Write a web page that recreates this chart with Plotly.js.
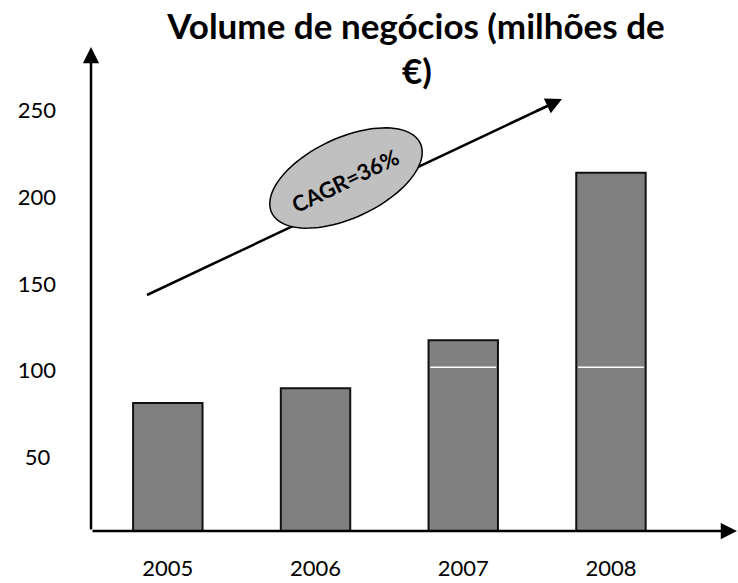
<!DOCTYPE html>
<html>
<head>
<meta charset="utf-8">
<script src="https://cdn.plot.ly/plotly-3.0.1.min.js"></script>
<style>html,body{margin:0;padding:0;background:#fff;}#chart{width:738px;height:583px;}</style>
</head>
<body>
<div id="chart"></div>
<script>
// ---- data ----
const years = ['2005', '2006', '2007', '2008'];
const revenue = [81.5, 90, 117.5, 214];
const divider = [null, null, 102, 102];
const yTickVals = [50, 100, 150, 200, 250];
const yTickText = ['50\u00a0', '100', '150', '200', '250'];
const titleLine1 = 'Volume de negócios (milhões de';
const titleLine2 = '€)';
const cagrLabel = 'CAGR=36%';

// ---- layout geometry ----
const W = 738, H = 583;
const M = {l: 91, r: 0, t: 75, b: 52};
const PW = W - M.l - M.r, PH = H - M.t - M.b;
const px = x => (x - M.l) / PW;
const py = y => (H - M.b - y) / PH;
const barWidth = 0.47;
const FONT = 'Lato, "Open Sans", sans-serif';
const AW = 2.5, AS = 1.3;

// white divider lines inside bars
const shapes = [];
divider.forEach((v, i) => {
  if (v === null) return;
  shapes.push({type: 'line', xref: 'x', yref: 'y', x0: i - barWidth / 2 + 0.012, x1: i + barWidth / 2 - 0.012,
               y0: v, y1: v, line: {color: '#ffffff', width: 1.5}, layer: 'above'});
});

// trend line (body), drawn under the ellipse
const tail = [147, 295], head = [562, 99];
const dx = head[0] - tail[0], dy = head[1] - tail[1];
const len = Math.hypot(dx, dy);
const stop = [head[0] - dx / len * 10, head[1] - dy / len * 10];
shapes.push({type: 'line', xref: 'paper', yref: 'paper', x0: px(tail[0]), y0: py(tail[1]),
             x1: px(stop[0]), y1: py(stop[1]), line: {color: '#000', width: 2.5}, layer: 'above'});

// rotated ellipse
const ec = [346, 178], ea = 82, eb = 40, th = 25 * Math.PI / 180;
let path = '';
for (let k = 0; k <= 96; k++) {
  const t = k / 96 * 2 * Math.PI;
  const ux = ea * Math.cos(t), uy = eb * Math.sin(t);
  const sx = ec[0] + ux * Math.cos(th) - uy * Math.sin(th);
  const sy = ec[1] - (ux * Math.sin(th) + uy * Math.cos(th));
  path += (k === 0 ? 'M' : 'L') + px(sx).toFixed(5) + ',' + py(sy).toFixed(5);
}
path += 'Z';
shapes.push({type: 'path', xref: 'paper', yref: 'paper', path: path,
             fillcolor: '#c0c0c0', line: {color: '#000', width: 1.5}, layer: 'above'});

const annotations = [
  // y-axis arrow
  {xref: 'paper', yref: 'paper', x: px(91), y: py(47), ax: 0, ay: 484, axref: 'pixel', ayref: 'pixel',
   text: '', showarrow: true, arrowhead: 2, arrowsize: AS, arrowwidth: AW, arrowcolor: '#000'},
  // x-axis arrow
  {xref: 'paper', yref: 'paper', x: px(743), y: py(531), ax: -652, ay: 0,
   text: '', showarrow: true, arrowhead: 2, arrowsize: AS, arrowwidth: AW, arrowcolor: '#000'},
  // trend arrow head
  {xref: 'paper', yref: 'paper', x: px(head[0]), y: py(head[1]), ax: -dx / len * 30, ay: -dy / len * 30,
   text: '', showarrow: true, arrowhead: 2, arrowsize: AS, arrowwidth: AW, arrowcolor: '#000'},
  // CAGR label
  {xref: 'paper', yref: 'paper', x: px(345), y: py(180), xanchor: 'center', yanchor: 'middle',
   text: '<b>' + cagrLabel + '</b>', showarrow: false,
   textangle: -26, font: {family: FONT, size: 22, color: '#000'}},
  // title 2nd line
  {xref: 'paper', yref: 'paper', x: px(417), y: py(70), xanchor: 'center', yanchor: 'middle',
   text: '<b>' + titleLine2 + '</b>',
   showarrow: false, font: {family: FONT, size: 35, color: '#000'}}
];

const data = [{
  type: 'bar', x: years, y: revenue, width: barWidth,
  marker: {color: '#808080', line: {color: '#111', width: 2}},
  hoverinfo: 'skip'
}];

const layout = {
  width: W, height: H, margin: M,
  paper_bgcolor: '#fff', plot_bgcolor: '#fff',
  showlegend: false,
  font: {family: FONT, color: '#000'},
  title: {text: '<b>' + titleLine1 + '</b>', xref: 'container', yref: 'container',
          x: 416 / W, xanchor: 'center', y: 1 - 27 / H, yanchor: 'middle',
          font: {family: FONT, size: 35, color: '#000'}},
  xaxis: {type: 'category', range: [-0.52, 3.86], showline: false, showgrid: false, zeroline: false,
          ticks: '', ticklabelstandoff: 22, tickfont: {family: FONT, size: 22, color: '#000'}, fixedrange: true},
  yaxis: {range: [7.8, 270.2], showline: false, showgrid: false, zeroline: false, ticks: '',
          tickvals: yTickVals, ticktext: yTickText, ticklabelstandoff: 34,
          tickfont: {family: FONT, size: 22, color: '#000'}, fixedrange: true},
  shapes: shapes,
  annotations: annotations
};

Plotly.newPlot('chart', data, layout, {displayModeBar: false, staticPlot: true});
</script>
</body>
</html>
